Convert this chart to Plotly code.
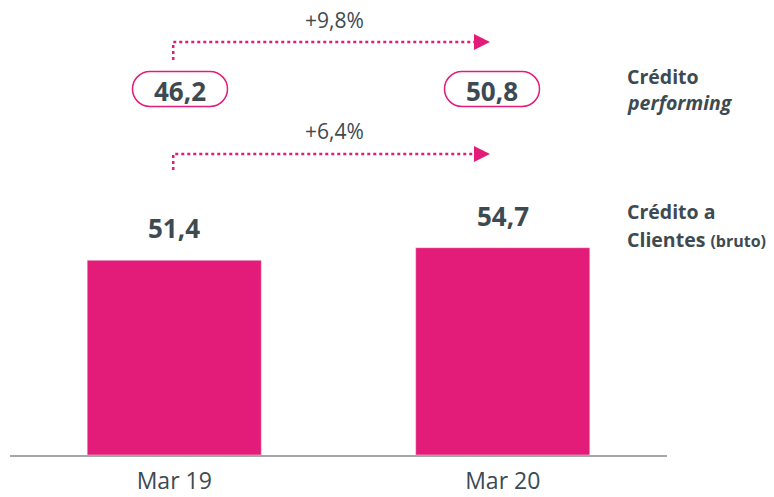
import plotly.graph_objects as go

categories = ["Mar 19", "Mar 20"]
credito_clientes = [51.4, 54.7]
credito_performing = [46.2, 50.8]
growth_performing = "+9,8%"
growth_clientes = "+6,4%"

MAG = "#E31C79"
TXT = "#3D4A52"
FONT = "Open Sans"

W, H = 774, 497
ML, MR, MT, MB = 10, 107, 10, 42
PW, PH = W - ML - MR, H - MT - MB


def px(x):
    return (x - ML) / PW


def py(y):
    return (H - MB - y) / PH


def fmt(v):
    return f"{v:.1f}".replace(".", ",")


fig = go.Figure()
fig.add_trace(go.Bar(x=categories, y=credito_clientes, marker_color=MAG,
                     width=0.53, hoverinfo="skip"))

shapes = []
annotations = []

# value labels above bars
for c, v in zip(categories, credito_clientes):
    annotations.append(dict(x=c, y=v, xref="x", yref="y", text=f"<b>{fmt(v)}</b>",
                            showarrow=False, yshift=32, xanchor="center", yanchor="middle",
                            font=dict(size=26, color=TXT, family=FONT)))


def pill(cx, cy, w, h):
    x0, x1 = cx - w / 2, cx + w / 2
    y0, y1 = cy - h / 2, cy + h / 2
    r = h / 2
    k = 0.5523 * r
    pts = [
        ("M", [(x0 + r, y0)]),
        ("L", [(x1 - r, y0)]),
        ("C", [(x1 - r + k, y0), (x1, cy - k), (x1, cy)]),
        ("C", [(x1, cy + k), (x1 - r + k, y1), (x1 - r, y1)]),
        ("L", [(x0 + r, y1)]),
        ("C", [(x0 + r - k, y1), (x0, cy + k), (x0, cy)]),
        ("C", [(x0, cy - k), (x0 + r - k, y0), (x0 + r, y0)]),
    ]
    s = ""
    for cmd, ps in pts:
        s += cmd + " " + " ".join(f"{px(a):.5f},{py(b):.5f}" for a, b in ps) + " "
    return s + "Z"


# bar centers in pixels
centers = [ML + PW * 0.25, ML + PW * 0.75]

# pills with performing credit
pill_cx = [180, 492]
for cx, v in zip(pill_cx, credito_performing):
    shapes.append(dict(type="path", xref="paper", yref="paper", path=pill(cx, 89, 95, 35),
                       line=dict(color=MAG, width=1.5), fillcolor="white"))
    annotations.append(dict(x=px(cx), y=py(91), xref="paper", yref="paper",
                            text=f"<b>{fmt(v)}</b>", showarrow=False,
                            xanchor="center", yanchor="middle",
                            font=dict(size=26, color=TXT, family=FONT)))


def dotted_arrow(y_line, y_start, label, label_y):
    xs = centers[0] - 1
    xe = 476
    shapes.append(dict(type="path", xref="paper", yref="paper",
                       path=f"M {px(xs)},{py(y_start)} L {px(xs)},{py(y_line)} L {px(xe)},{py(y_line)}",
                       line=dict(color=MAG, width=2.5, dash="dot")))
    shapes.append(dict(type="path", xref="paper", yref="paper",
                       path=f"M {px(474)},{py(y_line - 8)} L {px(490)},{py(y_line)} L {px(474)},{py(y_line + 8)} Z",
                       line=dict(color=MAG, width=0), fillcolor=MAG))
    annotations.append(dict(x=px(334), y=py(label_y), xref="paper", yref="paper",
                            text=label, showarrow=False, xanchor="center", yanchor="middle",
                            font=dict(size=21, color=TXT, family=FONT)))


dotted_arrow(42, 60, growth_performing, 20)
dotted_arrow(154, 170, growth_clientes, 131)

# right side labels
right = [
    ("<b>Crédito</b>", 76),
    ("<b><i>performing</i></b>", 102),
    ("<b>Crédito a</b>", 212),
    ("<b>Clientes</b> <b><span style='font-size:16px'>(bruto)</span></b>", 239),
]
for t, y in right:
    annotations.append(dict(x=px(625), y=py(y), xref="paper", yref="paper", text=t,
                            showarrow=False, xanchor="left", yanchor="middle",
                            font=dict(size=19.5, color=TXT, family=FONT)))

fig.update_layout(
    width=W, height=H,
    margin=dict(l=ML, r=MR, t=MT, b=MB, autoexpand=False),
    paper_bgcolor="white", plot_bgcolor="white",
    showlegend=False,
    separators=",.",
    bargap=0.47,
    xaxis=dict(type="category", range=[-0.5, 1.5], showgrid=False, showline=True,
               automargin=False,
               linecolor="#A3A6A9", linewidth=2, ticks="", ticklabelstandoff=4,
               tickfont=dict(size=23, color=TXT, family=FONT)),
    yaxis=dict(range=[0, PH / 3.79], visible=False, showgrid=False, zeroline=False,
               automargin=False),
    shapes=shapes,
    annotations=annotations,
)

fig.write_html("out.html", config={"displayModeBar": False},
               post_script="document.body.style.margin='0';")
